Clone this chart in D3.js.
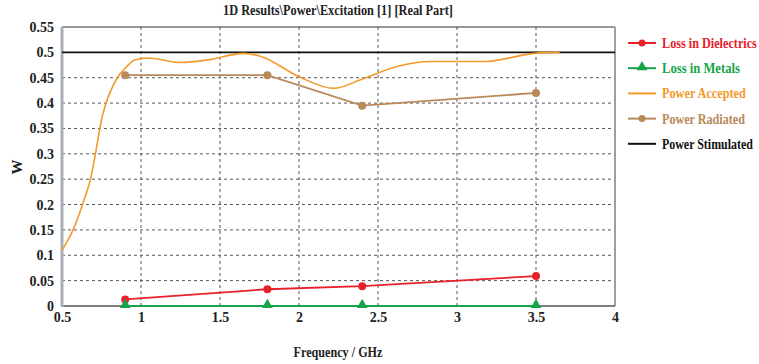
<!DOCTYPE html>
<html><head><meta charset="utf-8">
<script src="https://cdn.jsdelivr.net/npm/d3@7"></script>
<style>body{margin:0;background:#fff}svg{display:block}</style>
</head><body>
<script>
const freqPts = [0.9, 1.8, 2.4, 3.5];
const lossDielectrics = [0.013, 0.033, 0.039, 0.059];
const lossMetals = [0, 0, 0, 0];
const powerRadiated = [0.455, 0.455, 0.395, 0.42];
const acceptedFreq = [0.5, 0.57, 0.63, 0.68, 0.76, 0.85, 0.91, 0.96, 1.04, 1.25, 1.42, 1.65, 1.76, 2.0, 2.22, 2.39, 2.62, 2.83, 3.17, 3.52, 3.65];
const powerAccepted = [0.11, 0.15, 0.2, 0.25, 0.38, 0.45, 0.472, 0.485, 0.489, 0.48, 0.485, 0.498, 0.492, 0.452, 0.429, 0.446, 0.472, 0.482, 0.482, 0.499, 0.5];
const stimFreq = [0.5, 4];
const powerStimulated = [0.5, 0.5];
const xTicks = [0.5, 1, 1.5, 2, 2.5, 3, 3.5, 4];
const yTicks = [0, 0.05, 0.1, 0.15, 0.2, 0.25, 0.3, 0.35, 0.4, 0.45, 0.5, 0.55];
const legendNames = ["Loss in Dielectrics", "Loss in Metals", "Power Accepted", "Power Radiated", "Power Stimulated"];
const legendWidths = [95, 78, 84, 83, 91];
const colors = {d:"#e8202a", m:"#16a34a", a:"#f39a2b", r:"#b8895a", s:"#111"};
const FONT = "'Liberation Serif', 'Times New Roman', Times, serif";

const W = 759, H = 364;
const svg = d3.select("body").append("svg").attr("width", W).attr("height", H);
const x = d3.scaleLinear().domain([0.5, 4]).range([62, 615]);
const y = d3.scaleLinear().domain([0, 0.55]).range([306, 27]);

// helper: text squeezed horizontally to a target width (via scale transform)
function fitText(parent, str, tx, ty, size, width, fill, anchor) {
  const gg = parent.append("g");
  const t = gg.append("text").attr("font-size", size).attr("font-weight", "bold").attr("fill", fill)
    .style("font-family", FONT).attr("text-anchor", anchor || "start").text(str);
  const nat = t.node().getComputedTextLength();
  const sx = Math.min(1, width / nat);
  gg.attr("transform", `translate(${tx},${ty}) scale(${sx},1)`);
  return t;
}

// title
fitText(svg, "1D Results\\Power\\Excitation [1] [Real Part]", 338, 15, 15, 230, "#222", "middle");

// grid
const g = svg.append("g");
g.selectAll(".vg").data(xTicks.filter(t => t > 0.5 && t < 4)).join("line")
  .attr("x1", d => x(d)).attr("x2", d => x(d)).attr("y1", y(0.55)).attr("y2", y(0))
  .attr("stroke", "#555").attr("stroke-width", 1).attr("stroke-dasharray", "3,3");
g.selectAll(".hg").data(yTicks.filter(t => t > 0 && t < 0.55 && t !== 0.5)).join("line")
  .attr("x1", x(0.5)).attr("x2", x(4)).attr("y1", d => y(d)).attr("y2", d => y(d))
  .attr("stroke", "#555").attr("stroke-width", 1).attr("stroke-dasharray", "3,3");

// borders
svg.append("line").attr("x1", x(0.5)).attr("x2", x(4)).attr("y1", y(0.55)).attr("y2", y(0.55)).attr("stroke", "#333").attr("stroke-width", 1.2);
svg.append("line").attr("x1", x(4)).attr("x2", x(4)).attr("y1", y(0.55)).attr("y2", y(0)).attr("stroke", "#9aa0aa").attr("stroke-width", 2);
svg.append("line").attr("x1", x(0.5)).attr("x2", x(4)).attr("y1", y(0)).attr("y2", y(0)).attr("stroke", "#555").attr("stroke-width", 1.5);
svg.append("line").attr("x1", x(0.5)).attr("x2", x(0.5)).attr("y1", y(0.55)).attr("y2", y(0) + 1).attr("stroke", "#a8adb6").attr("stroke-width", 3);

// axes
const xAxis = svg.append("g").attr("transform", `translate(0,${y(0)})`)
  .call(d3.axisBottom(x).tickValues(xTicks).tickFormat(d3.format("")).tickSize(0));
xAxis.select(".domain").remove();
xAxis.selectAll("text").attr("y", 16).attr("dy", 0).attr("font-size", 14).attr("font-weight", "bold").attr("fill", "#222").style("font-family", FONT);
const yAxis = svg.append("g").attr("transform", `translate(${x(0.5)},0)`)
  .call(d3.axisLeft(y).tickValues(yTicks).tickFormat(d3.format("")).tickSize(0).tickPadding(8));
yAxis.select(".domain").remove();
yAxis.selectAll("text").attr("font-size", 14).attr("font-weight", "bold").attr("fill", "#222").style("font-family", FONT);

fitText(svg, "Frequency / GHz", 338, 357, 15, 89, "#222", "middle");
svg.append("text").attr("transform", "translate(22,167) rotate(-90)").attr("text-anchor", "middle")
  .attr("font-size", 15).attr("font-weight", "bold").attr("fill", "#222").style("font-family", FONT).text("W");

// lines
const lineGen = d3.line().x(d => x(d[0])).y(d => y(d[1]));
const smooth = d3.line().x(d => x(d[0])).y(d => y(d[1])).curve(d3.curveMonotoneX);
const zip = (a, b) => a.map((v, i) => [v, b[i]]);

svg.append("path").attr("d", lineGen(zip(stimFreq, powerStimulated))).attr("fill", "none").attr("stroke", colors.s).attr("stroke-width", 1.8);
svg.append("path").attr("d", smooth(zip(acceptedFreq, powerAccepted))).attr("fill", "none").attr("stroke", colors.a).attr("stroke-width", 1.6);
svg.append("path").attr("d", lineGen(zip(freqPts, powerRadiated))).attr("fill", "none").attr("stroke", colors.r).attr("stroke-width", 1.8);
svg.selectAll(".rp").data(zip(freqPts, powerRadiated)).join("circle").attr("cx", d => x(d[0])).attr("cy", d => y(d[1])).attr("r", 4).attr("fill", colors.r);
svg.append("path").attr("d", lineGen(zip(freqPts, lossMetals))).attr("fill", "none").attr("stroke", colors.m).attr("stroke-width", 2);
svg.append("path").attr("d", lineGen(zip(freqPts, lossDielectrics))).attr("fill", "none").attr("stroke", colors.d).attr("stroke-width", 1.8);
svg.selectAll(".dp").data(zip(freqPts, lossDielectrics)).join("circle").attr("cx", d => x(d[0])).attr("cy", d => y(d[1])).attr("r", 4).attr("fill", colors.d);
const tri = d3.symbol().type(d3.symbolTriangle).size(50);
svg.selectAll(".mp").data(zip(freqPts, lossMetals)).join("path").attr("d", tri)
  .attr("transform", d => `translate(${x(d[0])},${y(d[1]) - 1})`).attr("fill", colors.m);

// legend
const lg = svg.append("g");
const lc = [colors.d, colors.m, colors.a, colors.r, colors.s];
const textCol = ["#e8202a", "#16a34a", "#f39a2b", "#b8895a", "#111"];
legendNames.forEach((n, i) => {
  const yy = 43 + i * 25.2;
  lg.append("line").attr("x1", 628).attr("x2", 656).attr("y1", yy).attr("y2", yy).attr("stroke", lc[i]).attr("stroke-width", 2);
  if (i === 0 || i === 3) lg.append("circle").attr("cx", 642).attr("cy", yy).attr("r", 3.5).attr("fill", lc[i]);
  if (i === 1) lg.append("path").attr("d", tri).attr("transform", `translate(642,${yy - 1})`).attr("fill", lc[i]);
  fitText(lg, n, 662, yy + 5, 15, legendWidths[i], textCol[i], "start");
});
</script>
</body></html>
